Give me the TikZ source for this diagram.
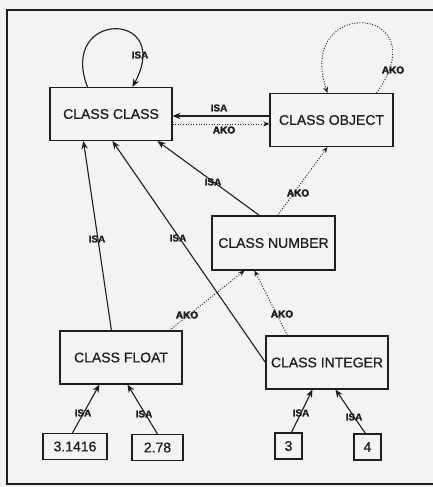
\documentclass[tikz,border=0pt]{standalone}
\usepackage{fontspec}
\setmainfont{Liberation Sans}
\newfontfamily\inkfont{Liberation Sans}[FakeBold=0.7]
\newfontfamily\tagfont{Liberation Sans Bold}[FakeBold=1.2]
\newfontfamily\blobfont{Liberation Sans Bold}[FakeBold=3.5]
\usepackage{tikz}
\usetikzlibrary{arrows.meta,positioning,calc}
\definecolor{pageink}{HTML}{1E1E1E}
\definecolor{pagepaper}{HTML}{F3F3F1}

\tikzset{
  classbox/.style={rectangle,draw=pageink,line width=1.1pt,inner sep=0pt,
                   minimum width=122pt,minimum height=53pt,
                   font=\inkfont\fontsize{14}{16}\selectfont,text=pageink},
  valbox/.style={rectangle,draw=pageink,line width=1.1pt,inner sep=0pt,
                 minimum height=26pt,font=\inkfont\fontsize{14}{16}\selectfont,text=pageink},
  isaline/.style={draw=pageink,line width=1.1pt,-{Stealth[length=8pt,width=6.5pt]}},
  akoline/.style={draw=pageink,line width=0.9pt,dash pattern=on 1pt off 1.6pt,
                  -{Stealth[open,length=6pt,width=5pt]}},
  isatag/.style={font=\tagfont\fontsize{10}{12}\selectfont,text=pageink,inner sep=1pt},
  akotag/.style={font=\blobfont\fontsize{10}{12}\selectfont,text=pageink,inner sep=1pt}
}

\begin{document}
\begin{tikzpicture}[x=1pt,y=-1pt]

  \fill[pagepaper] (0,0) rectangle (433,487);
  \useasboundingbox (0,0) rectangle (433,487);

  % frame of the figure
  \draw[pageink,line width=1.3pt] (433,10) -- (7,10) -- (7,484) -- (433,484);

  % classes
  \node[classbox] (cc) at (111,114)   {CLASS CLASS};
  \node[classbox,minimum width=123pt] (co) at (331.5,120) {CLASS OBJECT};
  \node[classbox,minimum width=123pt,minimum height=54pt] (cn) at (273.5,243) {CLASS NUMBER};
  \node[classbox] (cf) at (121,357.5) {CLASS FLOAT};
  \node[classbox] (ci) at (327,362.5) {CLASS INTEGER};

  % instances
  \node[valbox,minimum width=64pt] (v1) at (75,446.5)  {3.1416};
  \node[valbox,minimum width=51pt] (v2) at (157.5,447.5) {2.78};
  \node[valbox,minimum width=27pt] (v3) at (288.5,446) {3};
  \node[valbox,minimum width=27pt] (v4) at (367.5,447) {4};

  % ISA links
  \draw[isaline] ([xshift=38pt]cc.north west)
        .. controls (58,10) and (174,10) .. ([xshift=83pt]cc.north west);
  \draw[isaline] ([yshift=-23pt]co.north west) -- ([yshift=-29pt]cc.north east);
  \draw[isaline] ([xshift=48pt]cn.north west) -- ([xshift=108pt]cc.south west);
  \draw[isaline] ([xshift=52pt]cf.north west) -- ([xshift=34pt]cc.south west);
  \draw[isaline] (ci.west) -- ([xshift=63pt]cc.south west);
  \draw[isaline] ([xshift=30pt]v1.north west) -- ([xshift=40pt]cf.south west);
  \draw[isaline] ([xshift=26pt]v2.north west) -- ([xshift=68pt]cf.south west);
  \draw[isaline] ([xshift=17pt]v3.north west) -- ([xshift=47pt]ci.south west);
  \draw[isaline] ([xshift=12pt]v4.north west) -- ([xshift=70pt]ci.south west);

  % AKO links
  \draw[akoline] ([xshift=107pt]co.north west)
        .. controls (440,5) and (295,-5) .. ([xshift=58pt]co.north west);
  \draw[akoline] ([yshift=-37pt]cc.north east) -- ([yshift=-31pt]co.north west);
  \draw[akoline] ([xshift=66pt]cn.north west) -- ([xshift=58pt]co.south west);
  \draw[akoline] ([xshift=110pt]cf.north west) -- ([xshift=33pt]cn.south west);
  \draw[akoline] ([xshift=22pt]ci.north west) -- ([xshift=43pt]cn.south west);

  % link labels
  \node[isatag] (t-cc) at (140,55)  {ISA};
  \node[isatag] (t-co) at (219,108) {ISA};
  \node[isatag] (t-cn) at (213,182) {ISA};
  \node[isatag] (t-cf) at (97,239)  {ISA};
  \node[isatag] (t-ci) at (178,238) {ISA};
  \node[isatag] (t-v1) at (83,413)  {ISA};
  \node[isatag] (t-v2) at (144,414) {ISA};
  \node[isatag] (t-v3) at (301,413) {ISA};
  \node[isatag] (t-v4) at (354,417) {ISA};

  \node[akotag] (k-co) at (393,70)  {AKO};
  \node[akotag] (k-cc) at (224,130) {AKO};
  \node[akotag] (k-cn) at (298,193) {AKO};
  \node[akotag] (k-cf) at (187,315) {AKO};
  \node[akotag] (k-ci) at (282,314) {AKO};

\end{tikzpicture}
\end{document}
